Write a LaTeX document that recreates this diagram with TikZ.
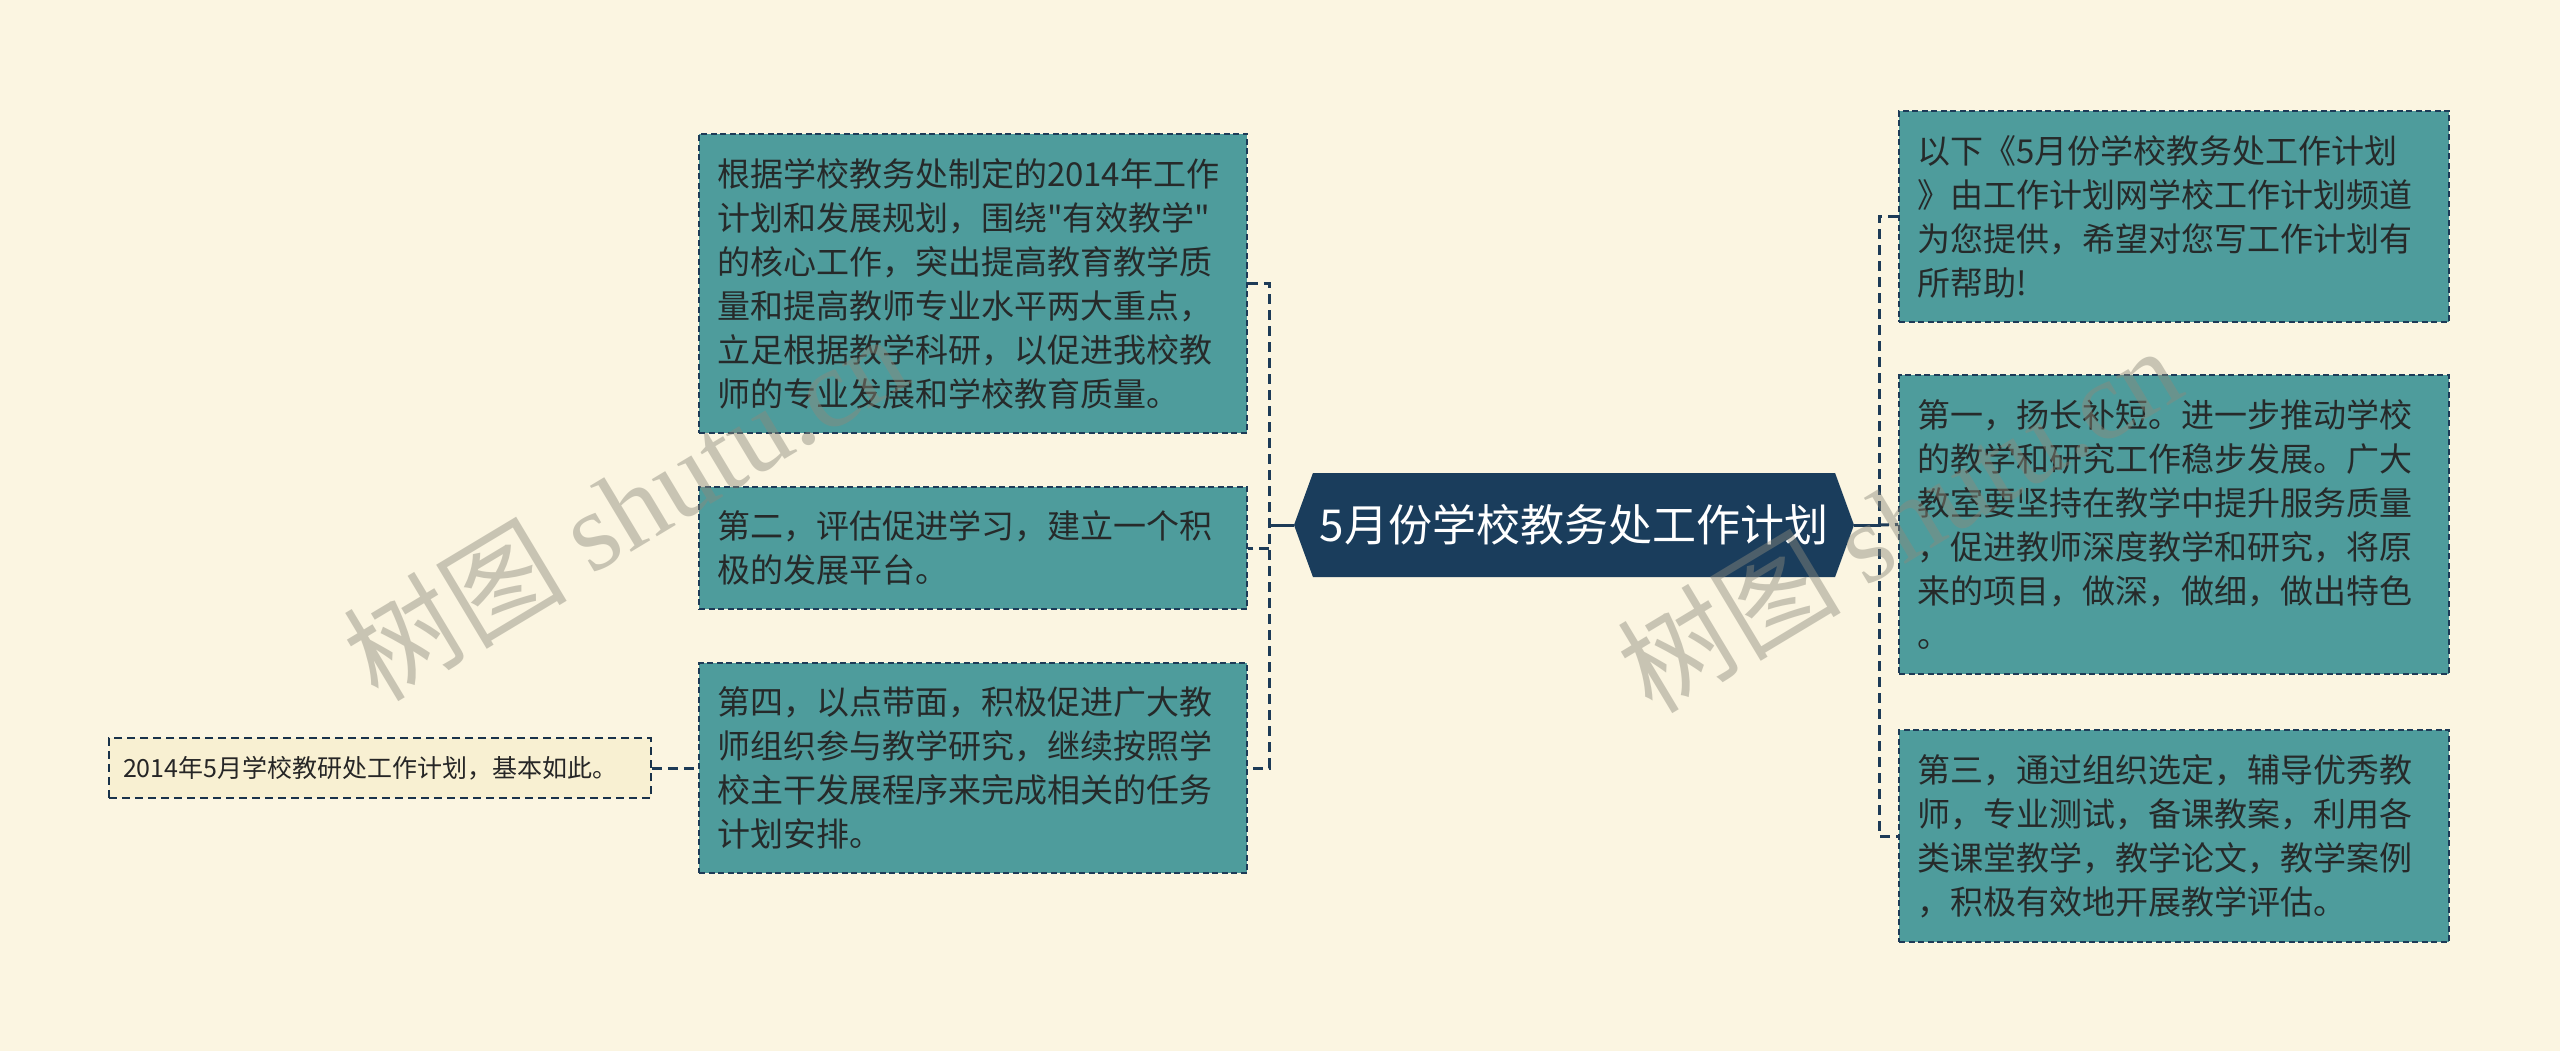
\documentclass[tikz,border=0pt]{standalone}
\usepackage{fontspec}
\setmainfont{Noto Sans CJK SC}[Ligatures=TeXOff]
\newfontfamily\wmserif{Liberation Serif}
\usetikzlibrary{shapes.symbols}
\definecolor{bgc}{HTML}{FBF5E1}
\definecolor{tealbox}{HTML}{4E9C9C}
\definecolor{navy}{HTML}{1D3B57}
\definecolor{txtc}{HTML}{262A2A}
\definecolor{smallfill}{HTML}{F8F0D2}
\definecolor{centerfill}{HTML}{1A3D5C}
\definecolor{wmc}{HTML}{8C8A7C}
\tikzset{
  box/.style={draw=navy, fill=tealbox, dash pattern=on 6pt off 3.5pt, line width=1.8pt,
    inner xsep=18pt, inner ysep=0pt, align=left, text=txtc,
    font=\fontsize{33pt}{44pt}\selectfont},
  smallbox/.style={draw=navy!85!black, fill=smallfill, dash pattern=on 8pt off 5pt, line width=1.6pt,
    inner xsep=14pt, inner ysep=0pt, align=left, text=black!85,
    font=\fontsize{25pt}{30pt}\selectfont},
  centerbox/.style={signal, signal to=west and east, signal pointer angle=140,
    fill=centerfill, draw=none, text=white, inner sep=0pt,
    minimum width=560pt, minimum height=104pt,
    font=\fontsize{44pt}{50pt}\selectfont},
  conn/.style={draw=navy, line width=3pt, dash pattern=on 10pt off 6pt},
  solidconn/.style={draw=navy, line width=3pt},
  wm/.style={text=wmc, text opacity=0.45, rotate=31, anchor=base west, inner sep=0pt,
    font=\fontsize{112pt}{112pt}\selectfont}
}
\begin{document}
\begin{tikzpicture}[x=1pt,y=-1pt]
\useasboundingbox (0,0) rectangle (2560,1051);
\fill[bgc] (0,0) rectangle (2560,1051);

\coordinate (lb) at (1269,525);
\coordinate (rb) at (1879,525);

% nodes
\node[centerbox] (C) at (1574,525) {5月份学校教务处工作计划};

\node[box, text width=512pt, minimum height=299pt] (L1) at (973,283.5)
 {根据学校教务处制定的2014年工作\\计划和发展规划，围绕"有效教学"\\的核心工作，突出提高教育教学质\\量和提高教师专业水平两大重点，\\立足根据教学科研，以促进我校教\\师的专业发展和学校教育质量。};
\node[box, text width=512pt, minimum height=122pt] (L2) at (973,548)
 {第二，评估促进学习，建立一个积\\极的发展平台。};
\node[box, text width=512pt, minimum height=210pt] (L3) at (973,768)
 {第四，以点带面，积极促进广大教\\师组织参与教学研究，继续按照学\\校主干发展程序来完成相关的任务\\计划安排。};
\node[smallbox, text width=514pt, minimum height=60pt] (S) at (380,768)
 {2014年5月学校教研处工作计划，基本如此。};

\node[box, text width=514pt, minimum height=211pt] (R1) at (2174,216.5)
 {以下《5月份学校教务处工作计划\\》由工作计划网学校工作计划频道\\为您提供，希望对您写工作计划有\\所帮助!};
\node[box, text width=514pt, minimum height=299pt] (R2) at (2174,524.5)
 {第一，扬长补短。进一步推动学校\\的教学和研究工作稳步发展。广大\\教室要坚持在教学中提升服务质量\\，促进教师深度教学和研究，将原\\来的项目，做深，做细，做出特色\\。};
\node[box, text width=514pt, minimum height=212pt] (R3) at (2174,836)
 {第三，通过组织选定，辅导优秀教\\师，专业测试，备课教案，利用各\\类课堂教学，教学论文，教学案例\\，积极有效地开展教学评估。};

% connectors
\draw[solidconn] (C.west) -- (lb);
\draw[conn] (L1.east) -| (lb) |- (L3.east);
\draw[conn] (lb |- L2.east) -- (L2.east);
\draw[solidconn] (C.east) -- (rb);
\draw[conn] (R1.west) -| (rb) |- (R3.west);
\draw[conn] (rb) -- (R2.west);
\draw[conn] (S.east) -- (L3.west);

% watermarks
\node[wm] (W1) at (378,704) {树图 {\wmserif shutu.cn}};
\node[wm] (W2) at (1652,716) {树图 {\wmserif shutu.cn}};
\end{tikzpicture}
\end{document}
